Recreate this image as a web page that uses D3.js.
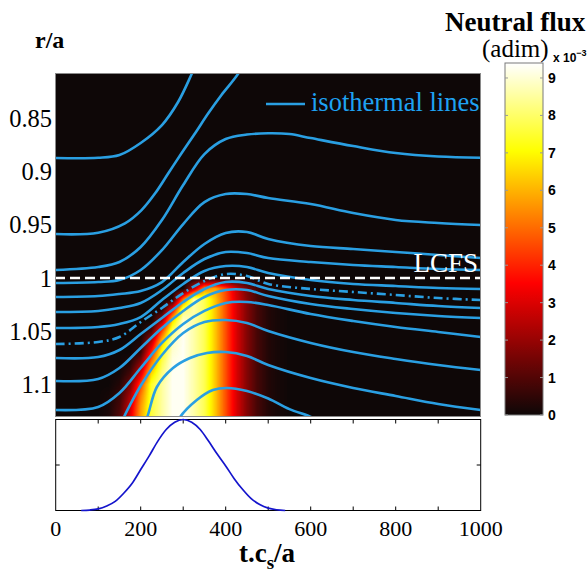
<!DOCTYPE html>
<html>
<head>
<meta charset="utf-8">
<script src="https://cdn.jsdelivr.net/npm/d3@7"></script>
<style>
  html, body { margin: 0; padding: 0; background: #ffffff; }
  svg { display: block; }
</style>
</head>
<body>
<svg id="chart" width="587" height="578"></svg>
<script>
// ---- axis ticks ----
const timeLabelTicks = [0, 200, 400, 600, 800, 1000];
const timeMinorTicks = [100, 200, 300, 400, 500, 600, 700, 800, 900];
const radiusTicks = [0.85, 0.9, 0.95, 1, 1.05, 1.1];
const fluxTicks = [0, 1, 2, 3, 4, 5, 6, 7, 8, 9];
const sourceTicks = [0.5];
const lcfsRadius = 1.0;

// ---- neutral flux map (x 1e-3), rows = r/a, columns = t.cs/a ----
const fluxTimes = [50, 75, 100, 125, 150, 175, 200, 225, 250, 275, 300, 325, 350, 375, 400, 425, 450, 475, 500, 525, 550, 575];
const fluxRadii = [1.00, 1.01, 1.02, 1.03, 1.04, 1.05, 1.06, 1.07, 1.08, 1.09, 1.10, 1.11, 1.12, 1.13];
const fluxValues = [
  [0, 0, 0, 0, 0, 0, 0, 0, 0, 0, 0, 0, 0, 0, 0, 0, 0, 0, 0, 0, 0, 0],
  [0, 0, 0, 0, 0, 0, 0, 0, 0, 0, 0, 2.5, 5.5, 5.8, 4.5, 2.8, 1.5, 0.7, 0.25, 0.08, 0, 0],
  [0, 0, 0, 0, 0, 0, 0, 0, 0, 0.3, 5.0, 8.6, 7.8, 6.3, 4.6, 3.0, 1.7, 0.8, 0.3, 0.1, 0, 0],
  [0, 0, 0, 0, 0, 0, 0, 0, 0.3, 3.5, 8.0, 8.6, 7.8, 6.3, 4.6, 3.0, 1.7, 0.8, 0.3, 0.1, 0, 0],
  [0, 0, 0, 0, 0, 0, 0, 0, 2.0, 6.5, 9.0, 8.6, 7.8, 6.3, 4.6, 3.0, 1.7, 0.8, 0.3, 0.1, 0, 0],
  [0, 0, 0, 0, 0, 0, 0, 0.9, 4.5, 8.0, 9.3, 8.6, 7.8, 6.3, 4.6, 3.0, 1.7, 0.8, 0.3, 0.1, 0, 0],
  [0, 0, 0, 0, 0, 0, 0.2, 2.5, 6.3, 8.8, 9.3, 8.6, 7.8, 6.3, 4.6, 3.0, 1.7, 0.8, 0.3, 0.1, 0, 0],
  [0, 0, 0, 0, 0, 0, 0.6, 4.0, 7.3, 9.0, 9.3, 8.6, 7.8, 6.3, 4.6, 3.0, 1.7, 0.8, 0.3, 0.1, 0, 0],
  [0, 0, 0, 0, 0, 0.3, 1.8, 5.3, 7.8, 9.2, 9.3, 8.6, 7.8, 6.3, 4.6, 3.0, 1.7, 0.8, 0.3, 0.1, 0, 0],
  [0, 0, 0, 0, 0.1, 0.8, 3.0, 6.5, 8.2, 9.3, 9.3, 8.6, 7.8, 6.3, 4.6, 3.0, 1.7, 0.8, 0.3, 0.1, 0, 0],
  [0, 0, 0, 0, 0.3, 1.5, 4.5, 7.4, 8.5, 9.3, 9.3, 8.6, 7.8, 6.3, 4.6, 3.0, 1.7, 0.8, 0.3, 0.1, 0, 0],
  [0, 0, 0, 0.1, 0.6, 2.2, 5.2, 7.5, 8.5, 9.3, 9.3, 8.6, 7.8, 6.3, 4.6, 3.0, 1.7, 0.8, 0.3, 0.1, 0, 0],
  [0, 0, 0, 0.15, 0.8, 2.7, 5.6, 7.6, 8.5, 9.3, 9.3, 8.6, 7.8, 6.3, 4.6, 3.0, 1.7, 0.8, 0.3, 0.1, 0, 0],
  [0, 0, 0, 0.2, 1.0, 3.0, 5.8, 7.6, 8.5, 9.3, 9.3, 8.6, 7.8, 6.3, 4.6, 3.0, 1.7, 0.8, 0.3, 0.1, 0, 0]
];

// ---- isothermal lines, [t.cs/a, r/a] ----
const isothermLines = [
  [[0, 0.8875], [100, 0.8873], [150, 0.8847], [200, 0.8734], [250, 0.8566], [288, 0.8350], [321, 0.8078], [345, 0.7863]],
  [[0, 0.9588], [100, 0.9575], [163, 0.9487], [202, 0.9363], [234, 0.9206], [265, 0.9018], [296, 0.8831], [328, 0.8643], [359, 0.8456], [390, 0.8284], [430, 0.8081], [460, 0.7863]],
  [[0, 0.9925], [100, 0.9897], [150, 0.9850], [200, 0.9709], [250, 0.9456], [300, 0.9128], [350, 0.8838], [400, 0.8697], [450, 0.8655], [500, 0.8643], [550, 0.8650], [600, 0.8688], [700, 0.8763], [800, 0.8828], [900, 0.8861], [1000, 0.8872]],
  [[0, 1.0047], [100, 1.0038], [150, 1.0019], [200, 0.9925], [250, 0.9738], [300, 0.9494], [350, 0.9288], [400, 0.9213], [450, 0.9213], [500, 0.9250], [600, 0.9306], [700, 0.9391], [800, 0.9456], [900, 0.9484], [1000, 0.9503]],
  [[0, 1.0178], [100, 1.0169], [150, 1.0150], [200, 1.0122], [250, 1.0038], [300, 0.9850], [350, 0.9681], [400, 0.9578], [450, 0.9569], [500, 0.9634], [600, 0.9700], [700, 0.9728], [800, 0.9756], [900, 0.9784], [1000, 0.9813]],
  [[0, 1.0319], [100, 1.0309], [150, 1.0281], [200, 1.0234], [250, 1.0113], [300, 0.9953], [350, 0.9822], [400, 0.9756], [450, 0.9766], [500, 0.9813], [600, 0.9850], [700, 0.9878], [800, 0.9897], [900, 0.9916], [1000, 0.9925]],
  [[0, 1.0469], [100, 1.0459], [150, 1.0431], [200, 1.0366], [250, 1.0206], [300, 1.0056], [350, 0.9934], [400, 0.9888], [450, 0.9897], [500, 0.9953], [600, 1.0019], [700, 1.0056], [800, 1.0075], [900, 1.0094], [1000, 1.0103]],
  [[0, 1.0750], [100, 1.0741], [150, 1.0675], [200, 1.0525], [250, 1.0375], [300, 1.0225], [350, 1.0103], [400, 1.0038], [450, 1.0047], [500, 1.0103], [600, 1.0169], [700, 1.0206], [800, 1.0234], [900, 1.0263], [1000, 1.0281]],
  [[0, 1.0966], [100, 1.0947], [150, 1.0844], [200, 1.0656], [250, 1.0469], [300, 1.0309], [350, 1.0178], [400, 1.0113], [450, 1.0113], [500, 1.0169], [600, 1.0244], [700, 1.0291], [800, 1.0328], [900, 1.0356], [1000, 1.0375]],
  [[0, 1.1238], [100, 1.1209], [150, 1.1078], [200, 1.0844], [250, 1.0609], [300, 1.0431], [350, 1.0309], [400, 1.0234], [450, 1.0225], [500, 1.0253], [600, 1.0338], [700, 1.0403], [800, 1.0459], [900, 1.0506], [1000, 1.0553]],
  [[150, 1.1390], [175, 1.1190], [200, 1.1010], [250, 1.0722], [300, 1.0516], [350, 1.0413], [400, 1.0394], [450, 1.0422], [500, 1.0497], [600, 1.0609], [700, 1.0694], [800, 1.0759], [900, 1.0816], [1000, 1.0863]],
  [[200, 1.1440], [215, 1.1308], [238, 1.1022], [276, 1.0844], [316, 1.0750], [356, 1.0703], [400, 1.0694], [450, 1.0731], [500, 1.0816], [600, 1.0938], [700, 1.1031], [800, 1.1106], [900, 1.1181], [1000, 1.1238]],
  [[280, 1.1420], [292, 1.1308], [332, 1.1144], [370, 1.1050], [403, 1.1031], [450, 1.1060], [500, 1.1130], [550, 1.1230], [603, 1.1308], [620, 1.1360]]
];
// dash-dot isotherm
const dashDotIsotherm = [[0, 1.0619], [100, 1.0600], [150, 1.0553], [200, 1.0413], [250, 1.0281], [300, 1.0141], [350, 1.0028], [400, 0.9963], [450, 0.9981], [500, 1.0056], [600, 1.0103], [700, 1.0131], [800, 1.0159], [900, 1.0188], [1000, 1.0206]];

// ---- neutral source time trace (normalised) ----
const sourceTimes = [60, 80, 100, 120, 140, 160, 180, 200, 220, 240, 260, 280, 300, 320, 340, 360, 380, 400, 420, 440, 460, 480, 500, 520, 540];
const sourceValues = [0.0, 0.005, 0.018, 0.05, 0.10, 0.19, 0.30, 0.45, 0.60, 0.76, 0.89, 0.97, 1.0, 0.97, 0.89, 0.76, 0.62, 0.49, 0.35, 0.23, 0.13, 0.065, 0.026, 0.008, 0.0];

// ---- layout ----
const svg = d3.select('#chart');
const serif = "'Liberation Serif', 'Times New Roman', serif";
const sans = "'Liberation Sans', Arial, sans-serif";
const isoColor = '#2a9fe2';

const plot = { left: 55, top: 73, right: 481, bottom: 417 };
const lower = { top: 419.5, bottom: 510.5 };
const bar = { left: 505, right: 543, top: 63, bottom: 415 };

const x = d3.scaleLinear().domain([0, 1000]).range([55.7, 480.7]);
const y = d3.scaleLinear().domain([0.8075, 1.1308]).range([72.7, 417.5]);
const ySrc = d3.scaleLinear().domain([0, 1]).range([lower.bottom, lower.top]);
const fluxMax = 9.4;
const yBar = d3.scaleLinear().domain([0, fluxMax]).range([bar.bottom, bar.top]);

// "hot" colour map
const hot = d3.scaleLinear()
  .domain([0, fluxMax * 0.375, fluxMax * 0.75, fluxMax])
  .range(['#0e0707', '#ff0000', '#ffff00', '#ffffff'])
  .interpolate(d3.interpolateRgb)
  .clamp(true);

// ---- flux map raster (bilinear shading of the grid) ----
const tIndex = d3.scaleLinear().domain(fluxTimes).range(d3.range(fluxTimes.length));
const rIndex = d3.scaleLinear().domain(fluxRadii).range(d3.range(fluxRadii.length));
function fluxAt(t, r) {
  if (t < fluxTimes[0] || t > fluxTimes[fluxTimes.length - 1] || r < fluxRadii[0]) return 0;
  const fi = tIndex(t);
  const fj = Math.min(rIndex(Math.min(r, fluxRadii[fluxRadii.length - 1])), fluxRadii.length - 1);
  const i0 = Math.min(Math.floor(fi), fluxTimes.length - 2), j0 = Math.min(Math.floor(fj), fluxRadii.length - 2);
  const a = fi - i0, b = fj - j0;
  const v00 = fluxValues[j0][i0], v10 = fluxValues[j0][i0 + 1];
  const v01 = fluxValues[j0 + 1][i0], v11 = fluxValues[j0 + 1][i0 + 1];
  return (1 - b) * ((1 - a) * v00 + a * v10) + b * ((1 - a) * v01 + a * v11);
}
const lut = d3.range(256).map(k => d3.rgb(hot(k / 255 * fluxMax)));
const W = plot.right - plot.left, H = plot.bottom - plot.top;
const canvas = document.createElement('canvas');
canvas.width = W; canvas.height = H;
const ctx = canvas.getContext('2d');
const img = ctx.createImageData(W, H);
for (let py = 0; py < H; py++) {
  const r = y.invert(plot.top + py + 0.5);
  for (let px = 0; px < W; px++) {
    const t = x.invert(plot.left + px + 0.5);
    const v = fluxAt(t, r);
    const c = lut[Math.max(0, Math.min(255, Math.round(v / fluxMax * 255)))];
    const k = (py * W + px) * 4;
    img.data[k] = c.r; img.data[k + 1] = c.g; img.data[k + 2] = c.b; img.data[k + 3] = 255;
  }
}
ctx.putImageData(img, 0, 0);

svg.append('defs').append('clipPath').attr('id', 'plotClip')
  .append('rect').attr('x', plot.left).attr('y', plot.top).attr('width', W).attr('height', H);

svg.append('image')
  .attr('x', plot.left).attr('y', plot.top).attr('width', W).attr('height', H)
  .attr('preserveAspectRatio', 'none')
  .attr('href', canvas.toDataURL());

// ---- isotherms ----
const line = d3.line().x(d => x(d[0])).y(d => y(d[1])).curve(d3.curveCatmullRom.alpha(0.5));
const iso = svg.append('g').attr('clip-path', 'url(#plotClip)');
iso.selectAll('path.iso').data(isothermLines).join('path')
  .attr('class', 'iso')
  .attr('d', line)
  .attr('fill', 'none').attr('stroke', isoColor).attr('stroke-width', 2.6);
iso.append('path').datum(dashDotIsotherm)
  .attr('d', line)
  .attr('fill', 'none').attr('stroke', isoColor).attr('stroke-width', 2.6)
  .attr('stroke-dasharray', '9,4,2,4');
// last closed flux surface
iso.append('line')
  .attr('x1', plot.left).attr('x2', plot.right)
  .attr('y1', y(lcfsRadius)).attr('y2', y(lcfsRadius))
  .attr('stroke', '#ffffff').attr('stroke-width', 2.6).attr('stroke-dasharray', '10,5');

svg.append('rect')
  .attr('x', plot.left + 0.5).attr('y', plot.top + 0.5).attr('width', W - 1).attr('height', H - 1)
  .attr('fill', 'none').attr('stroke', '#8a8a8a').attr('stroke-width', 1);

// in-plot annotations
svg.append('line').attr('x1', 266).attr('x2', 305).attr('y1', 104).attr('y2', 104)
  .attr('stroke', isoColor).attr('stroke-width', 2.6);
svg.append('text').attr('x', 311).attr('y', 111)
  .attr('font-family', serif).attr('font-size', 26.5).attr('fill', '#1ea2f2')
  .text('isothermal lines');
svg.append('text').attr('x', 478).attr('y', 272).attr('text-anchor', 'end')
  .attr('font-family', serif).attr('font-size', 27).attr('fill', '#ffffff')
  .text('LCFS');

// radial tick labels
svg.append('g').selectAll('text').data(radiusTicks).join('text')
  .attr('x', 52).attr('y', d => y(d)).attr('dy', '0.35em')
  .attr('text-anchor', 'end')
  .attr('font-family', serif).attr('font-size', 24.5).attr('fill', '#000')
  .text(d => d3.format('')(d));
svg.append('text').attr('x', 35).attr('y', 48)
  .attr('font-family', serif).attr('font-size', 24).attr('font-weight', 'bold').attr('fill', '#000')
  .text('r/a');

// ---- lower panel: source time trace ----
const lw = svg.append('g');
lw.append('rect')
  .attr('x', x(0)).attr('y', lower.top).attr('width', x(1000) - x(0)).attr('height', lower.bottom - lower.top)
  .attr('fill', '#fff').attr('stroke', '#000').attr('stroke-width', 1);
const tickLen = 4;
lw.selectAll('line.tb').data(timeMinorTicks).join('line').attr('class', 'tb')
  .attr('x1', d => x(d)).attr('x2', d => x(d))
  .attr('y1', lower.bottom).attr('y2', lower.bottom - tickLen)
  .attr('stroke', '#000');
lw.selectAll('line.tt').data(timeMinorTicks).join('line').attr('class', 'tt')
  .attr('x1', d => x(d)).attr('x2', d => x(d))
  .attr('y1', lower.top).attr('y2', lower.top + tickLen)
  .attr('stroke', '#000');
lw.selectAll('line.yl').data(sourceTicks).join('line').attr('class', 'yl')
  .attr('x1', x(0)).attr('x2', x(0) + tickLen)
  .attr('y1', d => ySrc(d)).attr('y2', d => ySrc(d)).attr('stroke', '#000');
lw.selectAll('line.yr').data(sourceTicks).join('line').attr('class', 'yr')
  .attr('x1', x(1000)).attr('x2', x(1000) - tickLen)
  .attr('y1', d => ySrc(d)).attr('y2', d => ySrc(d)).attr('stroke', '#000');
lw.append('path')
  .datum(sourceTimes.map((t, i) => [t, sourceValues[i]]))
  .attr('d', d3.line().x(d => x(d[0])).y(d => ySrc(d[1])).curve(d3.curveMonotoneX))
  .attr('fill', 'none').attr('stroke', '#1414cc').attr('stroke-width', 1.7);

lw.selectAll('text.tl').data(timeLabelTicks).join('text').attr('class', 'tl')
  .attr('x', d => x(d)).attr('y', 536)
  .attr('text-anchor', 'middle')
  .attr('font-family', serif).attr('font-size', 22).attr('fill', '#000')
  .text(d => d);

const xt = svg.append('text').attr('x', 267).attr('y', 562).attr('text-anchor', 'middle')
  .attr('font-family', serif).attr('font-size', 27).attr('font-weight', 'bold').attr('fill', '#000');
xt.append('tspan').text('t.c');
xt.append('tspan').attr('dy', 7).attr('font-size', 19).text('s');
xt.append('tspan').attr('dy', -7).text('/a');

// ---- colour bar ----
const grad = svg.select('defs').append('linearGradient')
  .attr('id', 'hotGrad').attr('x1', 0).attr('y1', 1).attr('x2', 0).attr('y2', 0);
grad.selectAll('stop').data(d3.range(0, 1.0001, 0.025)).join('stop')
  .attr('offset', d => d).attr('stop-color', d => hot(d * fluxMax));
svg.append('rect')
  .attr('x', bar.left).attr('y', bar.top).attr('width', bar.right - bar.left).attr('height', bar.bottom - bar.top)
  .attr('fill', 'url(#hotGrad)').attr('stroke', '#7a7a7a').attr('stroke-width', 1);
svg.append('g').selectAll('line.cl').data(fluxTicks).join('line')
  .attr('x1', bar.left).attr('x2', bar.left + 3)
  .attr('y1', d => yBar(d)).attr('y2', d => yBar(d)).attr('stroke', '#999');
svg.append('g').selectAll('line.cr').data(fluxTicks).join('line')
  .attr('x1', bar.right - 3).attr('x2', bar.right)
  .attr('y1', d => yBar(d)).attr('y2', d => yBar(d)).attr('stroke', '#999');
svg.append('g').selectAll('text').data(fluxTicks).join('text')
  .attr('x', 548).attr('y', d => yBar(d)).attr('dy', '0.36em')
  .attr('font-family', sans).attr('font-weight', 'bold').attr('font-size', 14).attr('fill', '#000')
  .text(d => d);

svg.append('text').attr('x', 445).attr('y', 31)
  .attr('font-family', serif).attr('font-size', 27).attr('font-weight', 'bold').attr('fill', '#000')
  .text('Neutral flux');
svg.append('text').attr('x', 482).attr('y', 57)
  .attr('font-family', serif).attr('font-size', 25).attr('fill', '#000')
  .text('(adim)');
const sc = svg.append('text').attr('x', 553).attr('y', 62)
  .attr('font-family', sans).attr('font-weight', 'bold').attr('font-size', 12).attr('fill', '#000');
sc.append('tspan').text('x 10');
sc.append('tspan').attr('dy', -6).attr('font-size', 9).text('\u22123');
</script>
</body>
</html>
